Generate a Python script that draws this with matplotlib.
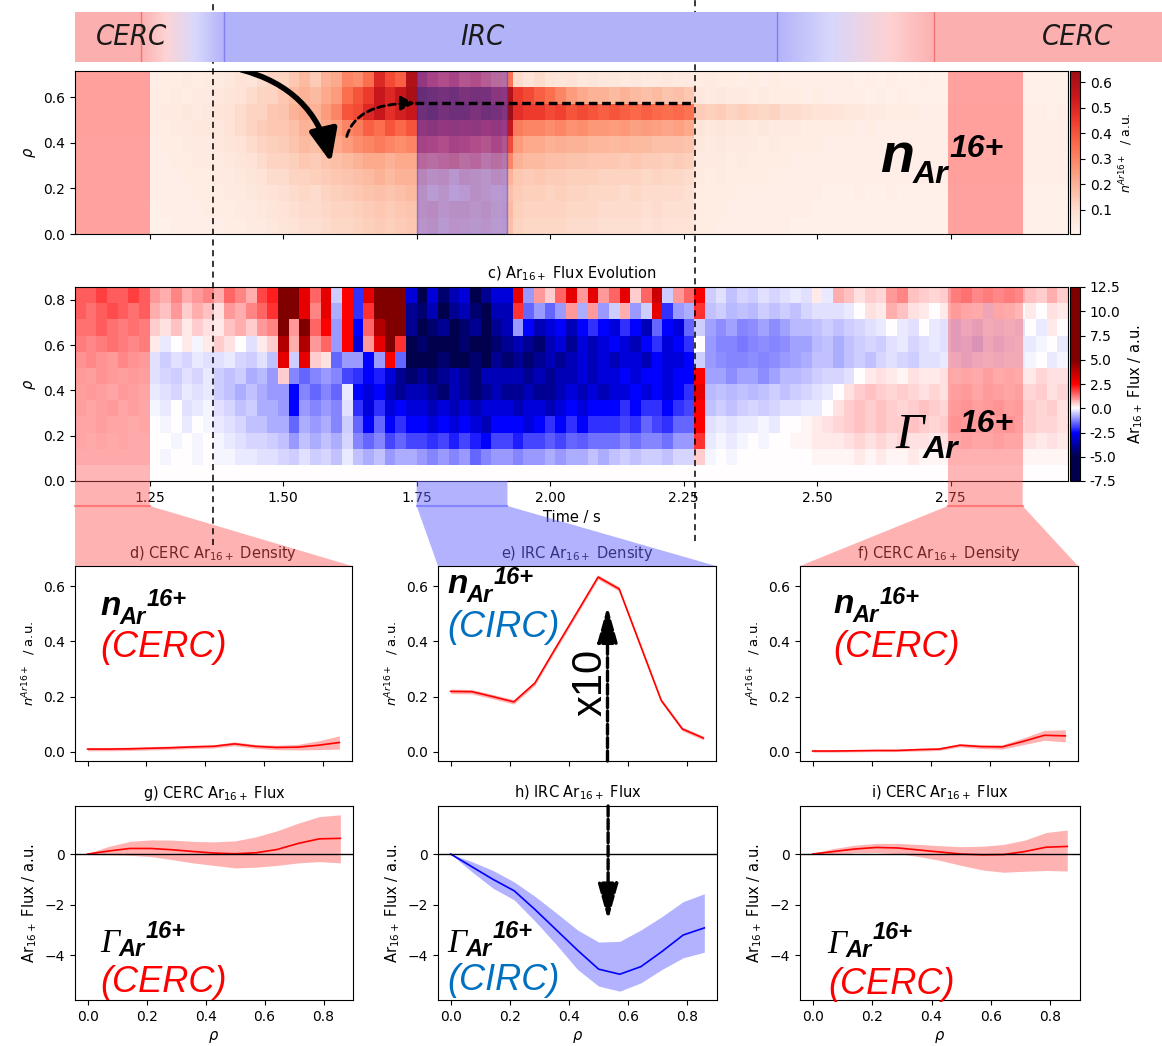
import numpy as np
import matplotlib
matplotlib.use("Agg")
import matplotlib.pyplot as plt
import matplotlib.colors as mcolors
import matplotlib.transforms as mtransforms
from matplotlib.patches import FancyArrowPatch, Polygon
from matplotlib.lines import Line2D

plt.rcParams["font.family"] = ["DejaVu Sans"]
plt.rcParams["xtick.labelsize"] = 10
plt.rcParams["ytick.labelsize"] = 10
plt.rcParams["axes.titlesize"] = 10.5
plt.rcParams["axes.labelsize"] = 10.5

W, H = 1162, 1046

# ---------------------------------------------------------------- data
# time bins (s) and radial cells (rho = k/14) of the evolution maps
time_edges = np.round(np.arange(1.11, 2.98, 0.02), 2)
rho_edges_flux = np.arange(13) / 14
rho_edges_dens = np.arange(11) / 14
rho = np.arange(13) / 14

# analysis windows (s)
cerc_early = (1.11, 1.25)
irc_window = (1.75, 1.92)
cerc_late = (2.745, 2.885)
transition_marks = (1.369, 2.271)

# regime bar: where the red / blue tints fade in and out
bar_span = (1.11, 3.146)
red_fade_t = [1.2336, 1.335, 2.524, 2.719]
blue_fade_t = [1.279, 1.389, 2.425, 2.6365]
regime_lines = [(1.2336, "r"), (1.389, "b"), (2.425, "b"), (2.719, "r")]
regime_labels = ["CERC", "IRC", "CERC"]
regime_label_t = [1.215, 1.874, 2.987]

# Ar16+ flux map (a.u.), one row per radial cell from rho = 1/14 upwards
flux_rows = [
    [0.2, 0.2, 0.2, 0.2, 0.2, 0.2, 0.2, 0, -0.1, 0, 0, -0.1, 0,
     -0.1, -0.1, -0.2, -0.2, -0.3, -0.3,
     -0.4, -0.5, -0.3, -0.5, -0.4, -0.6, -0.2, -0.6, -0.8, -0.6, -1, -0.8, -0.8,
     -1, -1.2, -1, -1.2, -1, -1.5, -1.2, -1, -1,
     -1.2, -1, -1, -0.8, -1, -0.8, -0.8, -0.6, -0.8, -0.6, -0.5, -0.6, -0.5, -0.5, -0.6, -0.4, -0.4,
     0.5,
     -0.1, 0, -0.1, 0, 0, 0, 0, 0, 0, 0, 0.1, 0.1,
     0.1, 0.1, 0.2, 0.1, 0.2, 0.1, 0.1, 0.2, 0.1, 0.1, 0.1,
     0.1, 0.1, 0.1, 0.1, 0.1, 0.1, 0.1, 0.1, 0.1, 0.1, 0.1],
    [0.3, 0.2, 0.3, 0.2, 0.3, 0.2, 0.2, 0, 0, -0.1, 0, -0.1, 0,
     -0.1, -0.2, -0.3, -0.4, -0.4, -0.5,
     -0.6, -1, -0.6, -0.8, -0.6, -0.8, -0.4, -1.2, -1.5, -1.2, -1.8, -1.5, -1.8,
     -1.8, -2, -1.8, -2.2, -1.8, -2.2, -2.5, -1.8, -1.8,
     -2.2, -1.8, -1.8, -1.6, -1.8, -1.5, -1.6, -1.4, -1.4, -1.4, -1.2, -1.4, -1.2, -1.2, -1.4, -1, -1,
     2,
     -0.2, -0.1, -0.2, -0.1, 0, -0.1, 0, 0, 0.1, 0.1, 0.2, 0.2,
     0.2, 0.3, 0.4, 0.3, 0.4, 0.3, 0.4, 0.3, 0.3, 0.2, 0.3,
     0.3, 0.4, 0.3, 0.3, 0.4, 0.3, 0.3, 0.3, 0.2, 0.3, 0.2],
    [0.3, 0.3, 0.4, 0.3, 0.3, 0.2, 0.3, 0, -0.1, 0, -0.2, 0, -0.1,
     -0.2, -0.3, -0.4, -0.6, -0.6, -0.8,
     -0.8, -1.5, -0.8, -1, -0.8, -1.2, -0.5, -1.5, -2.5, -1.5, -2.5, -2, -2.5,
     -2.5, -3, -2.5, -3, -2.5, -3, -3.5, -2.5, -2.5,
     -2.5, -3, -2.5, -2, -2.5, -2, -2.5, -2, -2, -2, -1.8, -2, -1.5, -1.8, -2, -1.5, -1.5,
     2.5,
     -0.3, -0.2, -0.3, -0.2, -0.2, -0.1, -0.2, 0, 0, 0.1, 0.2, 0.3,
     0.4, 0.5, 0.6, 0.5, 0.6, 0.5, 0.5, 0.6, 0.5, 0.4, 0.5,
     0.6, 0.5, 0.5, 0.4, 0.5, 0.6, 0.4, 0.5, 0.4, 0.4, 0.3],
    [0.4, 0.3, 0.4, 0.5, 0.3, 0.4, 0.3, -0.1, -0.2, 0, -0.3, -0.2, -0.1,
     -0.3, -0.4, -0.6, -0.5, -0.8, -0.8,
     -1, -2.5, -1, -1.2, -1, -1.2, -0.3, -2, -3, -2, -3, -2.5, -3,
     -3, -3.5, -3, -3.5, -3, -3.5, -3, -3, -3,
     -3.5, -3, -3, -3.5, -3, -2.5, -3, -2.5, -2.5, -2.5, -2, -2.5, -2, -2, -2.5, -2, -1.8,
     2.5,
     -0.6, -0.5, -0.6, -0.5, -0.4, -0.5, -0.4, -0.3, -0.3, -0.2, -0.2, 0,
     0.3, 0.5, 0.6, 0.5, 0.6, 0.5, 0.4, 0.5, 0.6, 0.5, 0.4,
     0.5, 0.6, 0.4, 0.5, 0.6, 0.4, 0.5, 0.5, 0.4, 0.5, 0.3],
    [0.4, 0.5, 0.4, 0.3, 0.5, 0.4, 0.3, -0.2, -0.3, -0.4, -0.2, -0.3, -0.2,
     -0.5, -0.6, -0.8, -0.6, -0.8, -1,
     -1, -2.5, -1.2, -1.5, -1.2, -1.5, -0.2, -2.5, -3, -2.5, -3.5, -4, -3.5,
     -3.5, -4, -4.5, -3.5, -4, -4.5, -4, -3.5, -4,
     -4, -3.5, -4, -4, -3.5, -3, -3.5, -3, -3.5, -3, -3, -2.5, -3, -2.5, -3, -2.5, -2,
     3,
     -0.7, -0.6, -0.7, -0.6, -0.7, -0.6, -0.5, -0.6, -0.5, -0.4, -0.3, -0.2,
     0, 0.3, 0.5, 0.6, 0.5, 0.4, 0.5, 0.4, 0.3, 0.4, 0.3,
     0.4, 0.5, 0.3, 0.5, 0.4, 0.3, 0.4, 0.4, 0.5, 0.3, 0.4],
    [0.5, 0.4, 0.6, 0.5, 0.4, 0.5, 0.4, -0.3, -0.4, -0.5, -0.3, -0.4, -0.2,
     -0.5, -0.6, -0.5, -0.8, -0.7, -1,
     0.5, -1.2, -1.5, -1.2, -1, -1.2, -1.8, -2, -2.5, -2.2, -3, -4, -4.5,
     -4, -4.5, -4, -3.5, -4, -4.5, -3.5, -3.5, -3.5,
     -3.5, -4, -3.5, -4, -3.5, -3.5, -3, -3.5, -3, -3, -2.5, -3, -2.5, -2.5, -3, -2.5, -2.5,
     2.5,
     -0.9, -0.9, -1.1, -0.9, -0.9, -1.1, -0.9, -0.7, -0.7, -0.6, -0.5, -0.4,
     -0.4, -0.3, 0, 0.2, 0.3, 0.2, 0.1, 0.3, 0.2, 0.2, 0.3,
     0.2, 0.3, 0.2, 0.4, 0.2, 0.3, 0.2, 0.2, 0.4, 0.3, 0.3],
    [0.6, 0.8, 0.6, 0.5, 0.8, 0.6, 0.5, -0.3, -0.5, -0.3, -0.4, -0.2, -0.3,
     -0.3, -0.2, -0.4, -0.5, -0.3, -0.6,
     3, -0.5, 3, 0.5, 0.3, -1.5, -1, -1, -2.5, -1, 2.5, -1.5, -5,
     -5, -5.5, -4.5, -5, -5.5, -4.5, -5, -4, -4.5,
     -4, -4.5, -4, -3.5, -4, -3.5, -3, -3.5, -3, -3.5, -3, -3, -3.5, -2.5, -3, -3, -2.5,
     -0.5,
     -1, -1.1, -1.2, -1.2, -1.1, -1.2, -1.1, -1, -0.9, -0.8, -0.6, -0.6,
     -0.8, -0.6, -0.5, -0.6, -0.4, -0.3, -0.4, -0.5, -0.3, -0.3, -0.2,
     -0.3, -0.4, -0.3, -0.2, -0.3, -0.2, -0.2, -0.1, 0, -0.2, -0.1],
    [1, 0.8, 1, 1.2, 1, 0.8, 1, 0.2, -0.2, 0, 0.2, -0.1, 0.2,
     0.5, 0.3, 0, -0.3, 0.2, 0.5,
     4, 0.8, 4, 1, 1.5, -1, 2.5, -3, 1, 3, 5, 2, -5,
     -4.5, -5, -5.5, -5, -4.5, -5, -5.5, -4.5, -4,
     -3.5, -4, -4.5, -3.5, -3, -4, -3, -3.5, -3, -2.5, -3, -3.5, -2.5, -2, -3, -2.5, -2,
     0,
     -1, -1.2, -1.2, -1.3, -1.2, -1.1, -1.2, -1.1, -0.9, -0.9, -0.7, -0.6,
     -0.8, -0.6, -0.5, -0.4, -0.5, -0.3, -0.2, -0.4, -0.3, -0.2, -0.3,
     -0.5, -0.4, -0.6, -0.3, -0.4, -0.3, -0.2, -0.2, -0.1, 0, -0.2],
    [1.2, 1.2, 1.5, 1.2, 1, 1.2, 1, 0.5, 0.3, 0.6, 0.2, 0.5, 0.3,
     0.2, 0.6, 0.8, 0.5, 1, 1.2,
     6, 1, 5, 1.5, 2.5, -1, 2.5, -2.5, 1.5, 4, 6, 5, -4,
     -5, -4.5, -4, -5, -4.5, -4, -5, -4, -3.5,
     -1, -2.5, -3.5, -3, -2.5, -3.5, -2.5, -2, -2.5, -3, -2, -2.5, -3.5, -1.5, -2.5, -3, -1.5,
     -0.5,
     -0.9, -1.1, -0.9, -1.2, -1.1, -0.9, -1.1, -0.9, -0.7, -0.7, -0.6, -0.5,
     -0.6, -0.5, -0.4, -0.3, -0.2, 0, -0.2, -0.3, 0, -0.2, -0.3,
     -0.5, -0.3, -0.4, -0.2, -0.3, -0.2, -0.3, 0, -0.2, 0.2, 0],
    [1.5, 1.2, 1.5, 1.8, 1.5, 1.2, 1.5, 0.8, 0.6, 1, 0.5, 0.8, 0.6,
     0.3, 1, 0.8, 1.2, 1.5, 2,
     6, 5, 3, 1.2, 3, -0.8, 2.5, -2, 2, 5, 7, 6, -4,
     -4.5, -3.5, -5, -4, -3.5, -4.5, -5, -3.5, -3.5,
     2, -1.5, -1, -1.5, -1, 1, -0.8, 1, -1, -0.5, 0.8, -1, -0.5, 3, -2, -1, -0.8,
     2,
     -0.6, -0.5, -0.7, -0.6, -0.7, -0.5, -0.6, -0.5, -0.6, -0.4, -0.3, -0.3,
     -0.3, -0.2, 0, 0.3, 0.2, 0.8, 0.6, 0.3, 0.2, 0, 0.2,
     0.5, 0.3, 0.2, -0.3, 0.3, 0.2, 0, 0.2, 0, 0.3, 0.2],
    [1.5, 1.5, 2, 1.5, 1.5, 2, 1.5, 1, 0.8, 1.2, 0.8, 1, 1.2,
     0.8, 1.5, 1.2, 0.8, 1.8, 2.2,
     7, 6, 3, 1.5, 3, -0.5, 2.5, -2, 3, 5, 7, 6, -3,
     -5, -3, -4.5, -3.5, -3, -5, -4, -3, -3,
     3, -1, 1, 0.5, 1.5, 3, 1, 3, 1, 1.5, 3, 0.5, 1.5, 3.5, -0.5, 1, 1.5,
     2.5,
     -0.5, -0.3, -0.6, -0.4, -0.5, -0.3, -0.4, -0.3, -0.2, -0.3, 0.2, -0.2,
     0.8, 0.6, 0.3, 0.5, 0.4, 1, 1.2, 0.6, 0.5, 0.4, 0.5,
     1, 1.2, 0.8, 1, 0.8, 1, 0.8, 0.6, 0.5, 0.8, 0.5],
]

# Ar16+ density map (a.u.), one row per radial cell from rho = 0 upwards
density_rows = [
    [0.02, 0.02, 0.02, 0.02, 0.02, 0.02, 0.02, 0.02, 0.02, 0.03, 0.03, 0.03, 0.03,
     0.03, 0.04, 0.04, 0.05, 0.05, 0.06,
     0.07, 0.08, 0.09, 0.09, 0.10, 0.11, 0.11, 0.12, 0.13, 0.14, 0.13, 0.14, 0.15,
     0.18, 0.20, 0.16, 0.19, 0.18, 0.17, 0.18, 0.16, 0.17,
     0.12, 0.11, 0.11, 0.11, 0.11, 0.10, 0.10, 0.10, 0.09, 0.09, 0.09, 0.09, 0.08, 0.09, 0.08, 0.08, 0.08,
     0.04, 0.04, 0.03, 0.03, 0.03, 0.03, 0.03, 0.03, 0.03, 0.02, 0.02, 0.02, 0.02,
     0.02, 0.02, 0.02, 0.02, 0.02, 0.02, 0.02, 0.02, 0.02, 0.02, 0.02,
     0.02, 0.02, 0.02, 0.02, 0.02, 0.02, 0.02, 0.02, 0.02, 0.02, 0.02],
    [0.02, 0.02, 0.02, 0.02, 0.02, 0.02, 0.02, 0.02, 0.03, 0.03, 0.03, 0.03, 0.04,
     0.04, 0.04, 0.05, 0.05, 0.06, 0.07,
     0.08, 0.09, 0.10, 0.10, 0.11, 0.12, 0.12, 0.13, 0.14, 0.15, 0.14, 0.15, 0.16,
     0.20, 0.22, 0.18, 0.20, 0.20, 0.18, 0.20, 0.17, 0.18,
     0.13, 0.12, 0.12, 0.12, 0.12, 0.11, 0.11, 0.11, 0.10, 0.10, 0.10, 0.10, 0.09, 0.10, 0.09, 0.09, 0.09,
     0.04, 0.04, 0.04, 0.03, 0.03, 0.03, 0.03, 0.03, 0.03, 0.03, 0.03, 0.02, 0.02,
     0.02, 0.02, 0.02, 0.02, 0.02, 0.02, 0.02, 0.02, 0.02, 0.02, 0.02,
     0.02, 0.02, 0.02, 0.02, 0.02, 0.02, 0.02, 0.02, 0.02, 0.02, 0.02],
    [0.02, 0.02, 0.02, 0.02, 0.02, 0.02, 0.02, 0.03, 0.03, 0.03, 0.03, 0.04, 0.04,
     0.04, 0.05, 0.05, 0.06, 0.07, 0.08,
     0.09, 0.10, 0.11, 0.10, 0.12, 0.13, 0.14, 0.15, 0.16, 0.17, 0.16, 0.17, 0.18,
     0.20, 0.15, 0.18, 0.14, 0.16, 0.20, 0.18, 0.16, 0.17,
     0.14, 0.13, 0.13, 0.12, 0.13, 0.12, 0.12, 0.11, 0.11, 0.11, 0.10, 0.11, 0.10, 0.10, 0.10, 0.10, 0.09,
     0.04, 0.04, 0.04, 0.04, 0.03, 0.03, 0.03, 0.03, 0.03, 0.03, 0.03, 0.03, 0.02,
     0.02, 0.02, 0.03, 0.02, 0.02, 0.03, 0.02, 0.02, 0.02, 0.02, 0.02,
     0.02, 0.02, 0.02, 0.02, 0.02, 0.02, 0.02, 0.02, 0.02, 0.02, 0.02],
    [0.02, 0.02, 0.02, 0.02, 0.02, 0.02, 0.02, 0.03, 0.03, 0.03, 0.04, 0.04, 0.04,
     0.05, 0.05, 0.06, 0.07, 0.08, 0.10,
     0.10, 0.12, 0.12, 0.13, 0.14, 0.15, 0.16, 0.17, 0.18, 0.20, 0.18, 0.20, 0.20,
     0.24, 0.20, 0.22, 0.17, 0.22, 0.20, 0.18, 0.22, 0.20,
     0.15, 0.14, 0.15, 0.14, 0.14, 0.13, 0.13, 0.13, 0.12, 0.12, 0.12, 0.12, 0.11, 0.12, 0.11, 0.11, 0.10,
     0.05, 0.04, 0.05, 0.04, 0.04, 0.04, 0.04, 0.03, 0.03, 0.03, 0.03, 0.03, 0.03,
     0.03, 0.03, 0.03, 0.03, 0.03, 0.03, 0.03, 0.03, 0.03, 0.03, 0.03,
     0.03, 0.03, 0.03, 0.03, 0.03, 0.03, 0.03, 0.03, 0.03, 0.03, 0.03],
    [0.02, 0.02, 0.02, 0.02, 0.02, 0.02, 0.02, 0.03, 0.03, 0.04, 0.04, 0.05, 0.05,
     0.05, 0.06, 0.07, 0.08, 0.10, 0.12,
     0.12, 0.13, 0.15, 0.14, 0.16, 0.17, 0.18, 0.20, 0.22, 0.22, 0.20, 0.22, 0.22,
     0.36, 0.33, 0.36, 0.38, 0.33, 0.36, 0.30, 0.33, 0.30,
     0.20, 0.18, 0.18, 0.17, 0.17, 0.16, 0.16, 0.15, 0.15, 0.15, 0.14, 0.15, 0.14, 0.14, 0.13, 0.14, 0.13,
     0.05, 0.05, 0.05, 0.04, 0.05, 0.04, 0.04, 0.04, 0.04, 0.03, 0.03, 0.03, 0.03,
     0.03, 0.03, 0.03, 0.03, 0.03, 0.03, 0.03, 0.03, 0.03, 0.03, 0.03,
     0.03, 0.03, 0.03, 0.03, 0.03, 0.03, 0.03, 0.03, 0.03, 0.03, 0.03],
    [0.02, 0.02, 0.02, 0.02, 0.02, 0.02, 0.02, 0.03, 0.04, 0.04, 0.05, 0.05, 0.05,
     0.06, 0.07, 0.08, 0.10, 0.12, 0.13,
     0.14, 0.16, 0.18, 0.17, 0.20, 0.22, 0.25, 0.28, 0.30, 0.32, 0.30, 0.28, 0.30,
     0.50, 0.48, 0.45, 0.50, 0.48, 0.45, 0.42, 0.48, 0.42,
     0.25, 0.22, 0.22, 0.20, 0.21, 0.20, 0.20, 0.19, 0.19, 0.18, 0.19, 0.18, 0.18, 0.17, 0.17, 0.17, 0.16,
     0.06, 0.05, 0.06, 0.05, 0.05, 0.05, 0.04, 0.05, 0.04, 0.04, 0.04, 0.04, 0.03,
     0.03, 0.03, 0.03, 0.03, 0.03, 0.03, 0.03, 0.03, 0.03, 0.03, 0.03,
     0.03, 0.03, 0.03, 0.03, 0.03, 0.03, 0.03, 0.03, 0.03, 0.03, 0.03],
    [0.03, 0.03, 0.03, 0.03, 0.03, 0.03, 0.03, 0.04, 0.04, 0.05, 0.05, 0.06, 0.06,
     0.06, 0.08, 0.10, 0.12, 0.14, 0.15,
     0.15, 0.17, 0.20, 0.18, 0.22, 0.25, 0.30, 0.32, 0.38, 0.35, 0.40, 0.36, 0.40,
     0.60, 0.62, 0.58, 0.60, 0.58, 0.60, 0.55, 0.58, 0.55,
     0.32, 0.30, 0.30, 0.28, 0.30, 0.27, 0.28, 0.26, 0.26, 0.25, 0.26, 0.24, 0.25, 0.24, 0.23, 0.24, 0.22,
     0.07, 0.06, 0.07, 0.06, 0.06, 0.05, 0.06, 0.05, 0.05, 0.05, 0.04, 0.04, 0.04,
     0.04, 0.04, 0.03, 0.04, 0.03, 0.03, 0.03, 0.03, 0.03, 0.03, 0.03,
     0.03, 0.03, 0.03, 0.03, 0.03, 0.03, 0.03, 0.03, 0.03, 0.03, 0.03],
    [0.03, 0.03, 0.03, 0.03, 0.03, 0.03, 0.03, 0.04, 0.05, 0.05, 0.06, 0.05, 0.06,
     0.07, 0.08, 0.10, 0.12, 0.12, 0.15,
     0.16, 0.20, 0.22, 0.20, 0.25, 0.30, 0.40, 0.42, 0.50, 0.55, 0.48, 0.52, 0.55,
     0.70, 0.72, 0.68, 0.70, 0.70, 0.66, 0.70, 0.68, 0.64,
     0.48, 0.45, 0.45, 0.42, 0.44, 0.40, 0.42, 0.40, 0.38, 0.40, 0.38, 0.36, 0.38, 0.36, 0.35, 0.36, 0.34,
     0.14, 0.13, 0.14, 0.12, 0.13, 0.12, 0.11, 0.12, 0.10, 0.10, 0.09, 0.08, 0.08,
     0.07, 0.06, 0.06, 0.05, 0.05, 0.04, 0.04, 0.04, 0.03, 0.03, 0.03,
     0.03, 0.03, 0.03, 0.03, 0.03, 0.03, 0.03, 0.03, 0.03, 0.02, 0.03],
    [0.03, 0.03, 0.03, 0.03, 0.03, 0.03, 0.03, 0.04, 0.04, 0.05, 0.04, 0.05, 0.05,
     0.06, 0.07, 0.08, 0.10, 0.12, 0.12,
     0.15, 0.18, 0.20, 0.18, 0.22, 0.25, 0.35, 0.40, 0.45, 0.55, 0.50, 0.55, 0.62,
     0.72, 0.70, 0.68, 0.70, 0.66, 0.68, 0.68, 0.62, 0.60,
     0.45, 0.42, 0.38, 0.35, 0.30, 0.25, 0.22, 0.20, 0.20, 0.18, 0.20, 0.18, 0.17, 0.18, 0.16, 0.17, 0.15,
     0.06, 0.05, 0.06, 0.05, 0.05, 0.04, 0.05, 0.04, 0.04, 0.04, 0.03, 0.04, 0.03,
     0.03, 0.03, 0.03, 0.02, 0.03, 0.02, 0.03, 0.02, 0.02, 0.02, 0.02,
     0.02, 0.02, 0.02, 0.02, 0.02, 0.02, 0.02, 0.02, 0.02, 0.02, 0.02],
    [0.03, 0.03, 0.03, 0.03, 0.03, 0.03, 0.03, 0.03, 0.04, 0.04, 0.05, 0.04, 0.05,
     0.05, 0.06, 0.08, 0.07, 0.10, 0.12,
     0.12, 0.15, 0.18, 0.14, 0.20, 0.22, 0.30, 0.28, 0.35, 0.50, 0.42, 0.38, 0.60,
     0.58, 0.50, 0.45, 0.50, 0.42, 0.45, 0.40, 0.35, 0.34,
     0.10, 0.08, 0.10, 0.08, 0.07, 0.08, 0.06, 0.07, 0.06, 0.06, 0.05, 0.06, 0.05, 0.05, 0.06, 0.05, 0.05,
     0.04, 0.05, 0.04, 0.04, 0.03, 0.04, 0.03, 0.04, 0.03, 0.03, 0.03, 0.03, 0.03,
     0.03, 0.03, 0.02, 0.03, 0.02, 0.03, 0.02, 0.02, 0.03, 0.02, 0.02,
     0.02, 0.02, 0.02, 0.02, 0.02, 0.02, 0.02, 0.02, 0.02, 0.02, 0.02],
]

# averaged radial profiles in the three windows
dens_cerc_early = [0.010, 0.010, 0.011, 0.013, 0.015, 0.018, 0.020, 0.029, 0.020, 0.016, 0.017, 0.024, 0.034]
dens_cerc_early_err = [0.006, 0.006, 0.006, 0.006, 0.006, 0.006, 0.006, 0.007, 0.007, 0.008, 0.010, 0.016, 0.024]
dens_irc = [0.219, 0.218, 0.200, 0.181, 0.249, 0.378, 0.505, 0.633, 0.590, 0.388, 0.186, 0.083, 0.050]
dens_irc_err = [0.008, 0.008, 0.008, 0.008, 0.008, 0.008, 0.008, 0.008, 0.008, 0.008, 0.007, 0.007, 0.007]
dens_cerc_late = [0.003, 0.003, 0.004, 0.005, 0.005, 0.008, 0.010, 0.024, 0.019, 0.018, 0.038, 0.060, 0.058]
dens_cerc_late_err = [0.004, 0.004, 0.004, 0.004, 0.004, 0.005, 0.005, 0.006, 0.007, 0.008, 0.012, 0.018, 0.022]

flux_cerc_early = [0.0, 0.12, 0.22, 0.22, 0.17, 0.10, 0.04, 0.01, 0.05, 0.18, 0.42, 0.60, 0.62]
flux_cerc_early_lo = [-0.02, -0.03, -0.05, -0.10, -0.22, -0.35, -0.45, -0.55, -0.52, -0.45, -0.35, -0.30, -0.35]
flux_cerc_early_hi = [0.03, 0.30, 0.50, 0.56, 0.55, 0.50, 0.48, 0.52, 0.68, 0.92, 1.22, 1.48, 1.55]
flux_irc = [0.0, -0.5, -1.0, -1.45, -2.2, -3.0, -3.8, -4.55, -4.75, -4.45, -3.85, -3.2, -2.92]
flux_irc_lo = [0.0, -0.7, -1.35, -1.81, -2.66, -3.58, -4.56, -5.22, -5.42, -5.09, -4.56, -4.1, -3.88]
flux_irc_hi = [0.0, -0.3, -0.65, -1.1, -1.68, -2.33, -3.0, -3.48, -3.45, -3.0, -2.47, -1.88, -1.57]
flux_cerc_late = [0.0, 0.1, 0.2, 0.26, 0.24, 0.16, 0.08, 0.0, -0.03, -0.02, 0.10, 0.27, 0.30]
flux_cerc_late_lo = [-0.02, 0.0, 0.05, 0.06, 0.02, -0.1, -0.25, -0.45, -0.63, -0.72, -0.68, -0.65, -0.67]
flux_cerc_late_hi = [0.04, 0.22, 0.35, 0.42, 0.42, 0.38, 0.33, 0.29, 0.31, 0.38, 0.55, 0.85, 0.95]

# ---------------------------------------------------------------- styling
red_tint = (1.0, 0.33, 0.33)
blue_tint = (0.4, 0.4, 1.0)
bar_red = np.array([0.99, 0.69, 0.69])
bar_blue = np.array([0.70, 0.70, 0.98])
circ_blue = "#0070c0"

fig = plt.figure(figsize=(W / 100, H / 100), dpi=100)
ident = mtransforms.IdentityTransform()


def box(l, t, r, b):
    """Axes rectangle from pixel edges measured from the top-left corner."""
    return [l / W, 1 - b / H, (r - l) / W, (b - t) / H]


# ---------------------------------------------------------------- regime bar
ax_bar = fig.add_axes(box(75, 12, 1162, 62), zorder=3)
tt = np.linspace(bar_span[0], bar_span[1], 1400)
w_red = np.interp(tt, red_fade_t, [1, 0, 0, 1])
w_blue = np.interp(tt, blue_fade_t, [0, 1, 1, 0])
rgb = 1 - w_red[:, None] * (1 - bar_red) - w_blue[:, None] * (1 - bar_blue)
ax_bar.imshow(np.clip(rgb, 0, 1)[None], extent=[bar_span[0], bar_span[1], 0, 1], aspect="auto")
for t, c in regime_lines:
    ax_bar.axvline(t, color=(0.95, 0.45, 0.45) if c == "r" else (0.5, 0.5, 0.95), lw=1)
for lab, t in zip(regime_labels, regime_label_t):
    ax_bar.text(t, 0.5, lab, ha="center", va="center", fontsize=21, style="italic",
                fontstretch="condensed", color="#1a1a1a")
ax_bar.set_xlim(*bar_span)
ax_bar.set_ylim(0, 1)
ax_bar.axis("off")

# ---------------------------------------------------------------- evolution maps
ax_n = fig.add_axes(box(75, 71, 1068, 234))
ax_c = fig.add_axes(box(75, 287, 1068, 481), sharex=ax_n)
cax_n = fig.add_axes(box(1070, 71, 1080, 234))
cax_c = fig.add_axes(box(1070, 287, 1080, 481))

dens_norm = mcolors.Normalize(0, 0.72)
flux_norm = mcolors.Normalize(-5, 5)
flux_grid = np.vstack([np.zeros(len(time_edges) - 1), np.array(flux_rows)])
mesh_n = ax_n.pcolormesh(time_edges, rho_edges_dens, np.array(density_rows),
                         cmap="Reds", norm=dens_norm, shading="flat")
mesh_c = ax_c.pcolormesh(time_edges, rho_edges_flux, flux_grid,
                         cmap="seismic", norm=flux_norm, shading="flat")

ax_n.set_xlim(time_edges[0], time_edges[-1])
ax_n.set_ylim(0, rho_edges_dens[-1])
ax_c.set_ylim(0, rho_edges_flux[-1])
ax_n.set_xticks([1.25, 1.5, 1.75, 2.0, 2.25, 2.5, 2.75])
ax_n.tick_params(labelbottom=False)
ax_n.set_yticks([0, 0.2, 0.4, 0.6])
ax_c.set_yticks([0, 0.2, 0.4, 0.6, 0.8])
ax_n.set_ylabel(r"$\rho$")
ax_c.set_ylabel(r"$\rho$")
ax_c.set_xlabel("Time / s")
ax_c.set_title(r"c) Ar$_{16+}$ Flux Evolution")

for lo, hi in (cerc_early, cerc_late):
    ax_n.axvspan(lo, hi, color=red_tint, alpha=0.5, lw=0)
    ax_c.axvspan(lo, hi, color=red_tint, alpha=0.42, lw=0)
ax_n.axvspan(*irc_window, facecolor=blue_tint, alpha=0.45, edgecolor=(0.2, 0.2, 0.9), lw=1)

cb_n = fig.colorbar(mesh_n, cax=cax_n, boundaries=np.linspace(0.005, 0.645, 129))
cb_n.set_ticks([0.1, 0.2, 0.3, 0.4, 0.5, 0.6])
cb_n.set_label(r"$n^{Ar16+}$  / a.u.", fontsize=9)
cb_c = fig.colorbar(mesh_c, cax=cax_c, boundaries=np.linspace(-7.5, 12.5, 201))
cb_c.set_ticks([-7.5, -5, -2.5, 0, 2.5, 5, 7.5, 10, 12.5])
cb_c.ax.yaxis.set_major_formatter(matplotlib.ticker.FormatStrFormatter("%.1f"))
cb_c.set_label(r"Ar$_{16+}$ Flux / a.u.", fontsize=10.5)

# migration of the density peak into the IRC window
ax_n.add_patch(FancyArrowPatch((1.421, 0.72), (1.5895, 0.313), connectionstyle="arc3,rad=-0.3",
                               arrowstyle="-|>,head_length=0.7,head_width=0.3", mutation_scale=28,
                               lw=4, color="k", shrinkA=0, shrinkB=0))
ax_n.add_patch(FancyArrowPatch((1.619, 0.427), (1.747, 0.573), connectionstyle="angle3,angleA=75,angleB=0",
                               arrowstyle="-|>,head_length=0.6,head_width=0.3", mutation_scale=14,
                               lw=2, ls=(0, (2.5, 1.5)), color="k", shrinkA=0, shrinkB=0))
ax_n.plot([1.747, transition_marks[1]], [0.573, 0.573], color="k", lw=2.4, ls=(0, (2.6, 1.4)))

# ---------------------------------------------------------------- window profiles
ax_d = fig.add_axes(box(75, 566, 352, 761))
ax_e = fig.add_axes(box(438, 566, 716, 761), sharex=ax_d, sharey=ax_d)
ax_f = fig.add_axes(box(800, 566, 1078, 761), sharex=ax_d, sharey=ax_d)
ax_g = fig.add_axes(box(75, 806, 353, 1000), sharex=ax_d)
ax_h = fig.add_axes(box(438, 806, 717, 1000), sharex=ax_d, sharey=ax_g)
ax_i = fig.add_axes(box(800, 806, 1080, 1000), sharex=ax_d, sharey=ax_g)

dens_sets = [(ax_d, dens_cerc_early, dens_cerc_early_err, "d) CERC"),
             (ax_e, dens_irc, dens_irc_err, "e) IRC"),
             (ax_f, dens_cerc_late, dens_cerc_late_err, "f) CERC")]
for ax, m, e, tag in dens_sets:
    m, e = np.array(m), np.array(e)
    ax.fill_between(rho, m - e, m + e, color="red", alpha=0.3, lw=0)
    ax.plot(rho, m, color="red", lw=1.2)
    ax.set_title(tag + r" Ar$_{16+}$ Density")
    ax.set_ylabel(r"$n^{Ar16+}$  / a.u.", fontsize=9.5)
    ax.tick_params(labelbottom=False)
ax_d.set_yticks([0, 0.2, 0.4, 0.6])

flux_sets = [(ax_g, flux_cerc_early, flux_cerc_early_lo, flux_cerc_early_hi, "red", "g) CERC"),
             (ax_h, flux_irc, flux_irc_lo, flux_irc_hi, "blue", "h) IRC"),
             (ax_i, flux_cerc_late, flux_cerc_late_lo, flux_cerc_late_hi, "red", "i) CERC")]
for ax, m, lo, hi, c, tag in flux_sets:
    ax.fill_between(rho, lo, hi, color=c, alpha=0.3, lw=0)
    ax.plot(rho, m, color=c, lw=1.2)
    ax.axhline(0, color="k", lw=1)
    ax.set_title(tag + r" Ar$_{16+}$ Flux")
    ax.set_ylabel(r"Ar$_{16+}$ Flux / a.u.")
    ax.set_xlabel(r"$\rho$")
ax_g.set_xticks([0, 0.2, 0.4, 0.6, 0.8])
ax_g.set_yticks([-4, -2, 0])

# x10 enhancement of the density / inward flux in the IRC window
arrow_rho = 0.532
ax_e.annotate("", xy=(arrow_rho, 0.526), xycoords="data", xytext=(arrow_rho, 0.0),
              textcoords=("data", "axes fraction"),
              arrowprops=dict(arrowstyle="-|>,head_length=1.0,head_width=0.28", mutation_scale=22,
                              color="k", lw=2.4, ls=(0, (3, 1)), shrinkA=0, shrinkB=0))
ax_e.text(0.475, 0.25, "x10", rotation=90, ha="center", va="center", fontsize=30,
          family="Liberation Sans")
ax_h.annotate("", xy=(arrow_rho, -2.6), xycoords="data", xytext=(arrow_rho, 1.0),
              textcoords=("data", "axes fraction"),
              arrowprops=dict(arrowstyle="-|>,head_length=1.0,head_width=0.28", mutation_scale=22,
                              color="k", lw=2.4, ls=(0, (3, 1)), shrinkA=0, shrinkB=0))

# ---------------------------------------------------------------- connectors and marks
drop = 25
for window, panel, colour, alpha in ((cerc_early, ax_d, red_tint, 0.45),
                                      (irc_window, ax_e, blue_tint, 0.5),
                                      (cerc_late, ax_f, red_tint, 0.45)):
    x0 = ax_c.transData.transform((window[0], 0))[0]
    x1 = ax_c.transData.transform((window[1], 0))[0]
    top = ax_c.bbox.y0
    mid = top - drop
    pb = panel.bbox
    verts = [(x0, top), (x1, top), (x1, mid), (pb.x1, pb.y1), (pb.x0, pb.y1), (x0, mid)]
    fig.add_artist(Polygon(verts, closed=True, transform=ident, facecolor=colour,
                           alpha=alpha, edgecolor="none", zorder=1.5))
    fig.add_artist(Line2D([x0, x1], [mid, mid], transform=ident, color=colour,
                          alpha=0.6, lw=1.5, zorder=1.6))

for t, bottom in zip(transition_marks, (545, 541)):
    x = ax_c.transData.transform((t, 0))[0]
    fig.add_artist(Line2D([x, x], [H - bottom, H], transform=ident, color="k",
                          lw=1.1, ls=(0, (4, 3)), zorder=2))

# ---------------------------------------------------------------- species symbols
renderer = fig.canvas.get_renderer()


def species(x, base, lead, lead_size, small_size, sub_drop, sup_rise, serif=False):
    fam = "Liberation Serif" if serif else "Liberation Sans"
    t = fig.text(x, H - base, lead, transform=ident, family=fam, style="italic",
                 weight="normal" if serif else "bold", fontsize=lead_size, va="baseline")
    right = t.get_window_extent(renderer).x1
    s = fig.text(right - 1, H - base - sub_drop, "Ar", transform=ident, family="Liberation Sans",
                 style="italic", weight="bold", fontsize=small_size, va="baseline")
    right = s.get_window_extent(renderer).x1
    fig.text(right + 1, H - base + sup_rise, "16+", transform=ident, family="Liberation Sans",
             style="italic", weight="bold", fontsize=small_size, va="baseline")


def regime_note(x, base, text, colour):
    fig.text(x, H - base, text, transform=ident, family="Liberation Sans", style="italic",
             fontsize=26, color=colour, va="baseline")


species(880, 172, "n", 40, 23, 11, 15)
species(895, 448, "\u0393", 36, 23, 10, 16, serif=True)

species(100, 615, "n", 24, 17, 9, 9)
regime_note(100, 657, "(CERC)", "red")
species(447, 593, "n", 24, 17, 9, 9)
regime_note(447, 637, "(CIRC)", circ_blue)
species(833, 613, "n", 24, 17, 9, 9)
regime_note(833, 657, "(CERC)", "red")

species(100, 952, "\u0393", 24, 17, 4, 14, serif=True)
regime_note(100, 992, "(CERC)", "red")
species(447, 952, "\u0393", 24, 17, 4, 14, serif=True)
regime_note(447, 990, "(CIRC)", circ_blue)
species(827, 953, "\u0393", 24, 17, 4, 14, serif=True)
regime_note(828, 994, "(CERC)", "red")

fig.savefig("out.png", dpi=100)
